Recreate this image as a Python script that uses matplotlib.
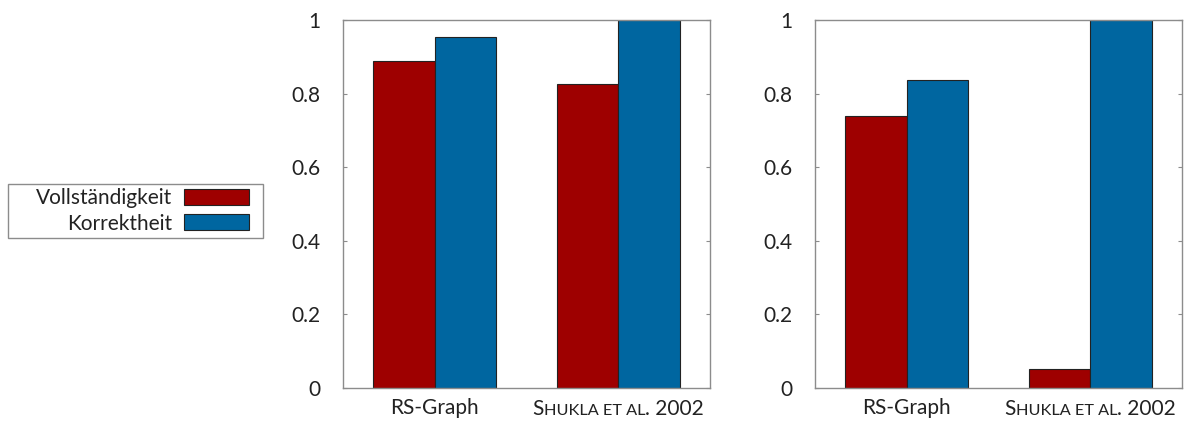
import matplotlib.pyplot as plt
import numpy as np
from matplotlib.offsetbox import TextArea, HPacker, AnnotationBbox
from matplotlib.patches import Rectangle

plt.rcParams['font.family'] = ['Lato', 'DejaVu Sans']

categories = ['RS-Graph', 'Shukla et al. 2002']
vollstaendigkeit_left = [0.889, 0.826]
korrektheit_left = [0.954, 1.0]
vollstaendigkeit_right = [0.739, 0.052]
korrektheit_right = [0.837, 1.0]
series_names = ['Vollständigkeit', 'Korrektheit']
yticks = [0, 0.2, 0.4, 0.6, 0.8, 1]
ytick_labels = ['0', '0.2', '0.4', '0.6', '0.8', '1']

red = '#9e0000'
blue = '#0066a0'
grey = '#8c8c8c'
fs = 15

fig = plt.figure(figsize=(11.85, 4.25), dpi=100)
ax1 = fig.add_axes([343 / 1185, 1 - 388 / 425, 367 / 1185, 368 / 425])
ax2 = fig.add_axes([815 / 1185, 1 - 388 / 425, 367 / 1185, 368 / 425])

x = np.arange(len(categories))
w = 0.335


def smallcaps_label(ax, xpos):
    # "Shukla et al." in small caps
    big, small = fs, fs * 0.78
    parts = [('S', big), ('HUKLA ET AL', small), ('. 2002', big)]
    boxes = [TextArea(t, textprops=dict(fontsize=s, color='#222222')) for t, s in parts]
    pack = HPacker(children=boxes, align='baseline', pad=0, sep=0)
    ab = AnnotationBbox(pack, (xpos, 0), xycoords=('data', 'axes fraction'),
                        xybox=(0, -8), boxcoords='offset points',
                        box_alignment=(0.5, 1), frameon=False, annotation_clip=False)
    ax.add_artist(ab)


for ax, v, k in [(ax1, vollstaendigkeit_left, korrektheit_left),
                 (ax2, vollstaendigkeit_right, korrektheit_right)]:
    ax.bar(x - w / 2, v, w, color=red, edgecolor='#222222', linewidth=0.8, label=series_names[0])
    ax.bar(x + w / 2, k, w, color=blue, edgecolor='#222222', linewidth=0.8, label=series_names[1])
    ax.set_xlim(-0.5, 1.5)
    ax.set_ylim(0, 1)
    ax.set_yticks(yticks)
    ax.set_yticklabels(ytick_labels, fontsize=fs, color='#222222')
    ax.set_xticks([0])
    ax.set_xticklabels([categories[0]], fontsize=fs, color='#222222')
    ax.tick_params(axis='x', length=0, pad=7)
    ax.tick_params(axis='y', direction='in', length=3, color=grey, right=True, pad=16)
    for s in ax.spines.values():
        s.set_color(grey)
        s.set_linewidth(1.0)
    smallcaps_label(ax, 1)

# legend frame drawn by hand (the text sits far from the left edge)
fig.add_artist(Rectangle((8 / 1185, 1 - 238 / 425), 255 / 1185, 54 / 425,
                         transform=fig.transFigure, facecolor='white',
                         edgecolor=grey, linewidth=1.0))
handles, labels = ax1.get_legend_handles_labels()
leg = fig.legend(handles, labels, loc='center right',
                 bbox_to_anchor=(249 / 1185, 1 - 211 / 425), markerfirst=False,
                 fontsize=fs, frameon=False,
                 handlelength=3.1, handleheight=0.8, handletextpad=0.6,
                 labelspacing=0.25, borderpad=0, borderaxespad=0)
for t in leg.get_texts():
    t.set_color('#222222')

fig.savefig('out.png', dpi=100)
